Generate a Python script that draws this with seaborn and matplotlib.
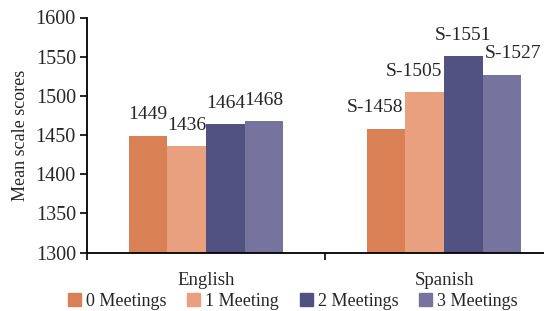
import matplotlib
matplotlib.use("Agg")
import matplotlib.pyplot as plt
import seaborn as sns
import pandas as pd

categories = ["English", "Spanish"]
series = ["0 Meetings", "1 Meeting", "2 Meetings", "3 Meetings"]
english = [1449, 1436, 1464, 1468]
spanish = [1458, 1505, 1551, 1527]
label_prefix = {"English": "", "Spanish": "S-"}
colors = ["#D98054", "#E9A07E", "#525282", "#76739F"]

rows = []
for s, e, sp in zip(series, english, spanish):
    rows.append({"Language": "English", "Group": s, "Score": e})
    rows.append({"Language": "Spanish", "Group": s, "Score": sp})
df = pd.DataFrame(rows)

sns.set_style("white")
plt.rcParams["font.family"] = ["Liberation Serif", "DejaVu Serif"]

fig = plt.figure(figsize=(5.44, 3.11), dpi=100)
ax = fig.add_axes([87/544, 1-252.5/311, 476/544, 235/311])

sns.barplot(data=df, x="Language", y="Score", hue="Group", order=categories,
            hue_order=series, palette=colors, saturation=1, width=0.65, linewidth=0,
            errorbar=None, ax=ax, legend=True)

ax.set_ylim(1300, 1600)
ax.set_yticks(range(1300, 1601, 50))
ax.set_xlim(-0.5, 1.5)
ax.set_xticks([-0.5, 0.5, 1.5])
ax.set_xticklabels([])
ax.set_xticks([0, 1], minor=True)
ax.set_xticklabels(categories, minor=True)
ax.tick_params(axis="x", which="major", direction="out", length=5, width=1.2, color="black", bottom=True)
ax.tick_params(axis="x", which="minor", length=0, pad=14, labelsize=13.5)
ax.tick_params(axis="y", direction="out", length=5, width=1.2, color="black", left=True, labelsize=14.5, pad=3)
ax.set_xlabel("")
ax.set_ylabel("Mean scale scores", fontsize=13, labelpad=5)
sns.despine(ax=ax)
for sp in ["left", "bottom"]:
    ax.spines[sp].set_color("black")
    ax.spines[sp].set_linewidth(1.3)

# value labels
spanish_dx = [-8, -8, 0, 8]
for i, cont in enumerate(ax.containers):
    for j, bar in enumerate(cont):
        cat = categories[j]
        val = bar.get_height()
        dx = spanish_dx[i] if cat == "Spanish" else 0
        ax.annotate(f"{label_prefix[cat]}{int(round(val))}",
                    (bar.get_x() + bar.get_width()/2, val),
                    xytext=(dx, 15), textcoords="offset points",
                    ha="center", va="center", fontsize=14)

leg = ax.get_legend()
if leg is not None:
    leg.remove()
handles = [plt.Rectangle((0, 0), 1, 1, color=c) for c in colors]
fig.legend(handles, series, loc="center", bbox_to_anchor=(293/544, 1-301/311),
           ncol=4, frameon=False, fontsize=13, handlelength=0.7, handleheight=0.7,
           handletextpad=0.3, columnspacing=1.15, borderpad=0)

fig.savefig("out.png", dpi=100)
